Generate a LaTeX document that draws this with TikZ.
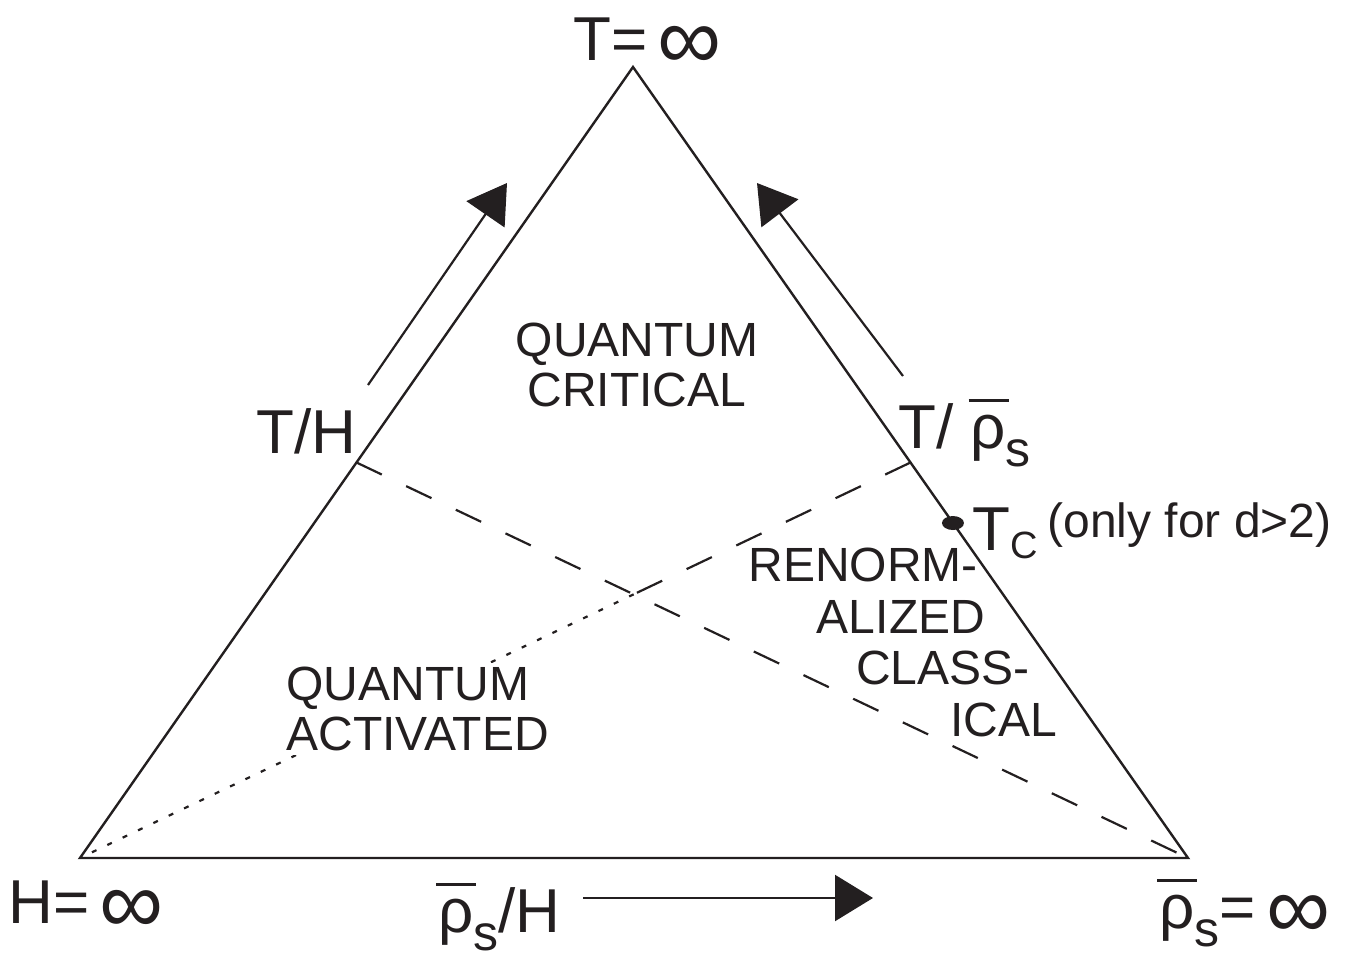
\documentclass[tikz,border=0pt]{standalone}
\usepackage{fontspec}
\setmainfont{Liberation Sans}
\usepackage{graphicx}
\usetikzlibrary{arrows.meta,calc,shapes.geometric}
\definecolor{ink}{HTML}{231F20}
\newcommand{\infsign}{\raisebox{-5pt}{\scalebox{1.45}{∞}}}
\newcommand{\rhobar}{\makebox[0pt][l]{\hspace{-1pt}\rule[23pt]{20pt}{1.5pt}}ρ}
\newcommand{\lowsub}[1]{\raisebox{-9pt}{\fontsize{25}{25}\selectfont #1}}
\tikzset{edge/.style={draw=ink,line width=1.2pt},flow/.style={draw=ink,line width=1.1pt,-{Triangle[length=19pt,width=23pt]}},lbl/.style={inner sep=0pt,anchor=base west,text=ink,font=\fontsize{31}{31}\selectfont}}
\begin{document}
\begin{tikzpicture}[x=.5pt,y=-.5pt,
reg/.style={inner sep=0pt,text=ink,font=\fontsize{24}{25}\selectfont},
mask/.style={fill=white,inner sep=2pt},
median/.style={draw=ink,line width=1.1pt,dash pattern=on 14pt off 13.5pt},
tail/.style={draw=ink,line width=1.1pt,dash pattern=on 2.5pt off 6pt}]
\useasboundingbox (0,0) rectangle (1346,959);
\coordinate (top) at (633,67);
\coordinate (lft) at (80,858);
\coordinate (rgt) at (1188,858);
\coordinate (midL) at ($(top)!.5!(lft)$);
\coordinate (midR) at ($(top)!.5!(rgt)$);
\coordinate (cen) at ($(lft)!2/3!(midR)$);
\coordinate (tc) at ($(top)!.5765!(rgt)$);
\draw[median] (midL)--(rgt);
\draw[median] (midR)--(cen);
\draw[tail] (cen)--(lft);
\node[reg,align=center] (qc) at (637,365) {QUANTUM\\CRITICAL};
\node[reg,mask,align=left,anchor=west] (qa) at (282,709) {QUANTUM\\ACTIVATED};
\foreach \t/\x/\y/\n in {RENORM-/863/565/rc1,ALIZED/901/617/rc2,CLASS-/943/668/rc3,ICAL/1004/720/rc4}{\node[reg,mask] (\n) at (\x,\y) {\t};}
\draw[edge,line join=miter] (top)--(lft)--(rgt)--cycle;
\coordinate (lfrom) at (368,385); \coordinate (lto) at (507,183);
\coordinate (rfrom) at (903,376); \coordinate (rto) at (757,183);
\coordinate (bfrom) at (583,898); \coordinate (bto) at (873,898);
\foreach \a/\b in {lfrom/lto,rfrom/rto,bfrom/bto}{\draw[flow] (\a)--(\b);}
\node[ellipse,fill=ink,inner sep=0pt,minimum width=11pt,minimum height=7pt] (tcdot) at (tc) {};
\node[lbl] (tinf) at (573,60) {T=\,\infsign};
\node[lbl] (hinf) at (8,923) {H=\,\infsign};
\node[lbl] (rinf) at (1159,928) {\rhobar\lowsub{s}=\,\infsign};
\node[lbl] (ratioB) at (438,932) {\rhobar\lowsub{s}/H};
\node[lbl] (ratioL) at (256,453) {T/H};
\node[lbl] (ratioR) at (898,448) {T/ \rhobar\lowsub{s}};
\node[lbl] (tclab) at (972,550) {T\raisebox{-4pt}{\fontsize{19}{19}\selectfont C}};
\node[reg,anchor=base west] (only) at (1047,537) {(only for d>2)};
\end{tikzpicture}
\end{document}
